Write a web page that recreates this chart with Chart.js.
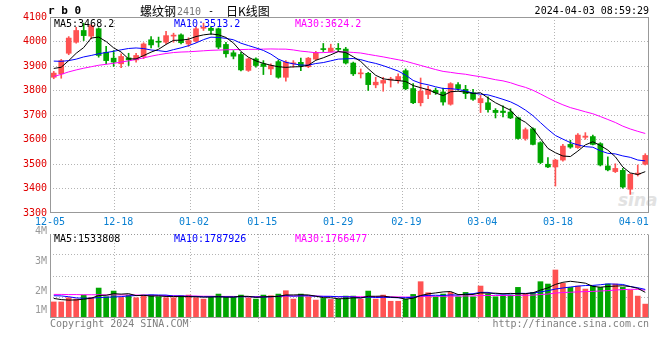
<!DOCTYPE html>
<html>
<head>
<meta charset="utf-8">
<script src="https://cdn.jsdelivr.net/npm/chart.js@4/dist/chart.umd.min.js"></script>
<style>
  body { margin: 0; background: #fff; }
  #wrap { position: relative; width: 660px; height: 360px; overflow: hidden; font-family: "DejaVu Sans Mono", monospace; font-size: 10px; }
  canvas { position: absolute; left: 0; }
  .t { position: absolute; white-space: nowrap; line-height: 10px; }
  .cjk { font-family: "Noto Sans CJK SC", sans-serif; font-size: 12px; line-height: 12px; }
</style>
</head>
<body>
<div id="wrap">
  <div class="t" style="left:618px;top:190px;font:italic bold 17px 'DejaVu Sans',sans-serif;color:#e2e2e2;">sina</div>
  <canvas id="kline" width="660" height="232" style="top:0"></canvas>
  <canvas id="vol" width="660" height="100" style="top:226px"></canvas>

  <div class="t" style="left:48px;top:6px;font-weight:bold;font-size:11px;">r b 0</div>
  <div class="t cjk" style="left:140px;top:5px;">螺纹钢</div>
  <div class="t" style="left:177px;top:7px;color:#777;">2410</div>
  <div class="t" style="left:208px;top:6px;">-</div>
  <div class="t cjk" style="left:226px;top:5px;">日K线图</div>
  <div class="t" style="right:11px;top:6px;">2024-04-03 08:59:29</div>

  <div class="t" style="left:54px;top:19px;color:#000;">MA5:3468.2</div>
  <div class="t" style="left:174px;top:19px;color:#0000ff;">MA10:3513.2</div>
  <div class="t" style="left:295px;top:19px;color:#ff00ff;">MA30:3624.2</div>

  <div class="t" style="left:54px;top:234px;color:#000;">MA5:1533808</div>
  <div class="t" style="left:174px;top:234px;color:#0000ff;">MA10:1787926</div>
  <div class="t" style="left:295px;top:234px;color:#ff00ff;">MA30:1766477</div>

  <div class="t" style="right:613px;top:226px;color:#999;">4M</div>
  <div class="t" style="right:613px;top:256px;color:#999;">3M</div>
  <div class="t" style="right:613px;top:286px;color:#999;">2M</div>
  <div class="t" style="right:613px;top:305px;color:#999;">1M</div>

  <div class="t" style="left:50px;top:319px;color:#808080;">Copyright 2024 SINA.COM</div>
  <div class="t" style="right:11px;top:319px;color:#808080;">http://finance.sina.com.cn</div>
</div>

<script>
// ── Data ──
const dates = [
  '12-05','12-06','12-07','12-08','12-11','12-12','12-13','12-14','12-15','12-18',
  '12-19','12-20','12-21','12-22','12-25','12-26','12-27','12-28','12-29','01-02',
  '01-03','01-04','01-05','01-08','01-09','01-10','01-11','01-12','01-15','01-16',
  '01-17','01-18','01-19','01-22','01-23','01-24','01-25','01-26','01-29','01-30',
  '01-31','02-01','02-02','02-05','02-06','02-07','02-08','02-19','02-20','02-21',
  '02-22','02-23','02-26','02-27','02-28','02-29','03-01','03-04','03-05','03-06',
  '03-07','03-08','03-11','03-12','03-13','03-14','03-15','03-18','03-19','03-20',
  '03-21','03-22','03-25','03-26','03-27','03-28','03-29','04-01','04-02','04-03'
];
const tickDates = ['12-05','12-18','01-02','01-15','01-29','02-19','03-04','03-18','04-01'];
const gridDates = ['12-18','01-02','01-15','01-29','02-19','03-04','03-18'];

const open = [
  3854,3868,3952,3997,4045,4022,4052,3956,3932,3909, 3933,3925,3939,4007,4001,3997,4022,4027,3990,4001,
  4054,4054,4052,3988,3954,3947,3882,3929,3909,3888, 3918,3854,3909,3915,3897,3928,3971,3959,3972,3969,
  3912,3868,3870,3823,3830,3843,3841,3881,3808,3750, 3784,3801,3794,3744,3824,3805,3791,3750,3750,3719,
  3716,3712,3689,3604,3644,3587,3499,3488,3516,3580, 3567,3609,3612,3583,3492,3469,3474,3397,3458,3499
];
const high = [
  3878,3927,4020,4058,4075,4069,4056,3980,3963,3950, 3952,3952,3995,4020,4018,4042,4034,4031,4015,4061,
  4075,4061,4055,3997,3963,3956,3933,3933,3922,3909, 3925,3922,3922,3932,3935,3960,3992,3989,3992,3976,
  3916,3888,3874,3854,3854,3854,3868,3888,3828,3851, 3818,3810,3810,3832,3832,3821,3805,3780,3774,3726,
  3737,3726,3692,3647,3648,3591,3526,3519,3580,3597, 3624,3628,3618,3587,3529,3501,3482,3461,3496,3542
];
const low = [
  3848,3850,3946,3993,4004,4011,3936,3909,3898,3893, 3902,3916,3930,3974,3977,3990,3997,3990,3980,3997,
  4045,4029,3970,3936,3929,3880,3878,3895,3865,3865, 3850,3838,3895,3881,3893,3925,3959,3957,3959,3908,
  3861,3851,3800,3811,3797,3814,3830,3803,3746,3737, 3767,3784,3740,3740,3801,3767,3760,3710,3712,3688,
  3692,3685,3601,3597,3578,3501,3485,3410,3512,3564, 3564,3601,3578,3492,3472,3465,3401,3376,3451,3496
];
const close = [
  3871,3922,4014,4045,4024,4065,3943,3922,3916,3939, 3925,3943,3990,3986,3997,4024,4026,3995,4004,4052,
  4058,4045,3977,3950,3940,3884,3929,3902,3898,3902, 3854,3916,3913,3901,3932,3955,3967,3973,3968,3912,
  3868,3872,3824,3834,3841,3846,3857,3807,3750,3797, 3805,3791,3753,3828,3808,3787,3764,3767,3722,3710,
  3710,3688,3604,3640,3580,3506,3488,3516,3573,3569, 3618,3614,3580,3496,3476,3482,3406,3458,3463,3535
];
const ma5 = [
  3890,3895,3922,3952,3975.2,4014.0,4018.2,3999.8,3974.0,3957.0, 3929.0,3929.0,3942.6,3956.6,3968.2,3988.0,4004.6,4005.6,4009.2,4020.2,
  4027.0,4030.8,4027.2,4016.4,3994.0,3959.2,3936.0,3921.0,3910.6,3903.0, 3897.0,3894.4,3896.6,3897.2,3903.2,3923.4,3933.6,3945.6,3959.0,3955.0,
  3937.6,3918.6,3888.8,3862.0,3847.8,3843.4,3840.4,3837.0,3820.2,3811.4, 3803.2,3790.0,3779.2,3794.8,3797.0,3793.4,3788.0,3790.8,3769.6,3750.0,
  3734.6,3719.4,3686.8,3670.4,3644.4,3603.6,3563.6,3546.0,3532.6,3530.4, 3552.8,3578.0,3590.8,3575.4,3556.8,3529.6,3488.0,3463.6,3457.0,3468.8
];
const ma10 = [
  3920,3919,3922,3928,3937,3943,3950,3955,3960,3966.1, 3971.5,3973.6,3971.2,3965.3,3962.6,3958.5,3966.8,3974.1,3982.9,3994.2,
  4007.5,4017.7,4016.4,4012.8,4007.1,3993.1,3983.4,3974.1,3963.5,3948.5, 3928.1,3915.2,3908.8,3903.9,3903.1,3910.2,3914.0,3921.1,3928.1,3929.1,
  3930.5,3926.1,3917.2,3910.5,3901.4,3890.5,3879.5,3862.9,3841.1,3829.6, 3823.3,3815.2,3808.1,3807.5,3804.2,3798.3,3789.0,3785.0,3782.2,3773.5,
  3764.0,3753.7,3738.8,3720.0,3697.2,3669.1,3641.5,3616.4,3601.5,3587.4, 3578.2,3570.8,3568.4,3554.0,3543.6,3541.2,3533.0,3527.2,3516.2,3512.8
];
const ma30 = [
  3857,3866,3876,3884,3891,3897,3903,3907,3911,3916, 3921,3927,3933,3940,3946,3951,3955,3957,3958,3960,
  3962,3964,3965,3966,3967,3967,3968,3968,3969,3969.6, 3969.0,3968.8,3965.5,3960.7,3957.6,3953.9,3954.7,3956.4,3958.2,3957.3,
  3955.4,3953.0,3947.5,3942.4,3937.2,3931.3,3925.6,3919.4,3910.9,3902.4, 3894.0,3885.5,3878.0,3874.0,3869.6,3866.3,3860.8,3856.3,3850.5,3844.1,
  3839.3,3831.7,3821.4,3812.7,3800.9,3786.0,3770.0,3754.8,3741.6,3730.2, 3721.8,3713.2,3705.1,3693.8,3681.7,3669.5,3654.5,3642.9,3633.3,3624.6
];
// volume in millions
const volume = [
  0.96,0.96,1.21,1.13,1.37,1.23,1.79,1.27,1.61,1.23, 1.37,1.21,1.37,1.37,1.27,1.21,1.21,1.33,1.37,1.21,
  1.13,1.23,1.43,1.23,1.23,1.37,1.21,1.13,1.37,1.33, 1.43,1.63,1.13,1.43,1.27,1.07,1.17,1.11,1.13,1.31,
  1.31,1.13,1.61,1.13,1.37,1.00,1.00,1.13,1.41,2.17, 1.51,1.27,1.43,1.53,1.27,1.53,1.27,1.91,1.43,1.27,
  1.37,1.37,1.83,1.43,1.53,2.17,2.03,2.87,2.07,1.83, 1.91,1.73,1.91,1.83,2.03,2.03,1.83,1.67,1.31,0.83
];
const vma5 = [
  1.17,1.10,1.07,1.08,1.126,1.180,1.346,1.358,1.454,1.426, 1.454,1.338,1.358,1.310,1.318,1.286,1.286,1.278,1.278,1.266,
  1.250,1.254,1.274,1.246,1.250,1.298,1.294,1.234,1.262,1.282, 1.294,1.378,1.378,1.390,1.378,1.306,1.214,1.210,1.150,1.158,
  1.206,1.198,1.298,1.298,1.310,1.248,1.222,1.126,1.182,1.342, 1.444,1.498,1.558,1.582,1.402,1.406,1.406,1.502,1.482,1.482,
  1.450,1.470,1.454,1.454,1.506,1.666,1.798,2.006,2.134,2.194, 2.142,2.082,1.890,1.842,1.882,1.906,1.926,1.878,1.774,1.534
];
const vma10 = [
  1.33,1.32,1.27,1.20,1.18,1.19,1.22,1.24,1.26,1.276, 1.317,1.342,1.358,1.382,1.372,1.370,1.312,1.318,1.294,1.292,
  1.268,1.270,1.276,1.262,1.258,1.274,1.274,1.254,1.254,1.266, 1.296,1.336,1.306,1.326,1.330,1.300,1.296,1.294,1.270,1.268,
  1.256,1.206,1.254,1.224,1.234,1.227,1.210,1.212,1.240,1.326, 1.346,1.360,1.342,1.382,1.372,1.425,1.452,1.530,1.532,1.442,
  1.428,1.438,1.478,1.468,1.494,1.558,1.634,1.730,1.794,1.850, 1.904,1.940,1.948,1.988,2.038,2.024,2.004,1.884,1.808,1.708
];
const vma30 = [
  1.41,1.41,1.40,1.40,1.39,1.39,1.39,1.38,1.38,1.38, 1.37,1.37,1.36,1.36,1.35,1.34,1.33,1.32,1.31,1.31,
  1.30,1.30,1.29,1.29,1.29,1.28,1.28,1.28,1.28,1.278, 1.294,1.316,1.313,1.323,1.320,1.315,1.294,1.289,1.273,1.275,
  1.273,1.271,1.279,1.271,1.274,1.267,1.260,1.253,1.255,1.287, 1.299,1.301,1.301,1.311,1.312,1.317,1.319,1.345,1.347,1.345,
  1.343,1.335,1.358,1.358,1.367,1.403,1.432,1.491,1.522,1.539, 1.559,1.579,1.589,1.613,1.635,1.669,1.697,1.715,1.711,1.667
];

// ── Styles ──
const RED = '#ff5252';
const GREEN = '#00a600';
const GRID = '#b4b4b4';
const MONO = '"DejaVu Sans Mono", monospace';
const candleColors = close.map((c, i) => c >= open[i] ? RED : GREEN);

// gray frame round the plot area
const frame = {
  id: 'frame',
  afterDraw(chart, args, opts) {
    const { ctx, chartArea: a } = chart;
    ctx.save();
    ctx.strokeStyle = '#999';
    ctx.lineWidth = 1;
    ctx.beginPath();
    ctx.moveTo(a.left + 0.5, a.top + 0.5);
    ctx.lineTo(a.left + 0.5, a.bottom - 0.5);
    ctx.moveTo(a.right - 0.5, a.top + 0.5);
    ctx.lineTo(a.right - 0.5, a.bottom - 0.5);
    ctx.moveTo(a.left, a.bottom - 0.5);
    ctx.lineTo(a.right, a.bottom - 0.5);
    ctx.stroke();
    ctx.beginPath();
    if (opts.dottedTop) ctx.setLineDash([1, 2]);
    ctx.moveTo(a.left, a.top + 0.5);
    ctx.lineTo(a.right, a.top + 0.5);
    ctx.stroke();
    ctx.restore();
  }
};

function lineSet(data, color) {
  return {
    type: 'line', data, xAxisID: 'x', borderColor: color, borderWidth: 1,
    pointRadius: 0, tension: 0, fill: false, order: 0
  };
}

function timeAxis(showLabels) {
  return {
    type: 'category',
    labels: dates,
    offset: false,
    position: 'bottom',
    grid: {
      color: c => gridDates.includes(dates[c.index]) ? GRID : 'rgba(0,0,0,0)',
      drawTicks: !showLabels,
      tickLength: 4,
      tickBorderDash: [1, 2]
    },
    border: { display: false, dash: [1, 2] },
    ticks: {
      display: showLabels,
      autoSkip: false,
      maxRotation: 0,
      minRotation: 0,
      padding: 3,
      color: '#0a80d2',
      font: { family: MONO, size: 10 },
      callback: (v, i) => tickDates.includes(dates[i]) ? dates[i] : ''
    },
    afterFit: s => { s.height = showLabels ? 19 : 8; }
  };
}

// ── K-line panel ──
new Chart(document.getElementById('kline'), {
  type: 'bar',
  data: {
    labels: dates,
    datasets: [
      lineSet(ma5, '#000000'),
      lineSet(ma10, '#0000ff'),
      lineSet(ma30, '#ff00ff'),
      {
        data: dates.map((d, i) => [open[i], close[i]]),
        xAxisID: 'x', backgroundColor: candleColors,
        barThickness: 5, minBarLength: 1, grouped: false, order: 2
      },
      {
        data: dates.map((d, i) => [low[i], high[i]]),
        xAxisID: 'x', backgroundColor: candleColors,
        barThickness: 1, grouped: false, order: 3
      }
    ]
  },
  options: {
    responsive: false,
    animation: false,
    events: [],
    layout: { padding: { top: 17, right: 11, left: 0, bottom: 0 } },
    plugins: { legend: { display: false }, tooltip: { enabled: false } },
    scales: {
      x: { type: 'category', offset: true, display: false },
      xt: timeAxis(true),
      y: {
        min: 3300, max: 4100,
        ticks: {
          stepSize: 100, color: '#e00000', padding: 3,
          font: { family: MONO, size: 10 },
          callback: v => String(v)
        },
        grid: {
          drawTicks: false,
          color: c => (c.tick.value > 3300 && c.tick.value < 4100) ? GRID : 'rgba(0,0,0,0)'
        },
        border: { display: false, dash: [1, 2] },
        afterFit: s => { s.width = 50; }
      }
    }
  },
  plugins: [frame]
});

// ── Volume panel ──
new Chart(document.getElementById('vol'), {
  type: 'bar',
  data: {
    labels: dates,
    datasets: [
      lineSet(vma5, '#000000'),
      lineSet(vma10, '#0000ff'),
      lineSet(vma30, '#ff00ff'),
      {
        data: volume, xAxisID: 'x', backgroundColor: candleColors,
        barThickness: 5, grouped: false, order: 2
      }
    ]
  },
  options: {
    responsive: false,
    animation: false,
    events: [],
    layout: { padding: { top: 8, right: 11, left: 0, bottom: 0 } },
    plugins: { legend: { display: false }, tooltip: { enabled: false }, frame: { dottedTop: true } },
    scales: {
      x: { type: 'category', offset: true, display: false },
      xt: timeAxis(false),
      y: {
        min: 0, max: 5.02,
        ticks: { display: false, stepSize: 1.255 },
        grid: {
          drawTicks: false,
          color: c => (c.tick.value > 0.1 && c.tick.value < 4.9) ? GRID : 'rgba(0,0,0,0)'
        },
        border: { display: false, dash: [1, 2] },
        afterFit: s => { s.width = 50; }
      }
    }
  },
  plugins: [frame]
});
</script>
</body>
</html>
